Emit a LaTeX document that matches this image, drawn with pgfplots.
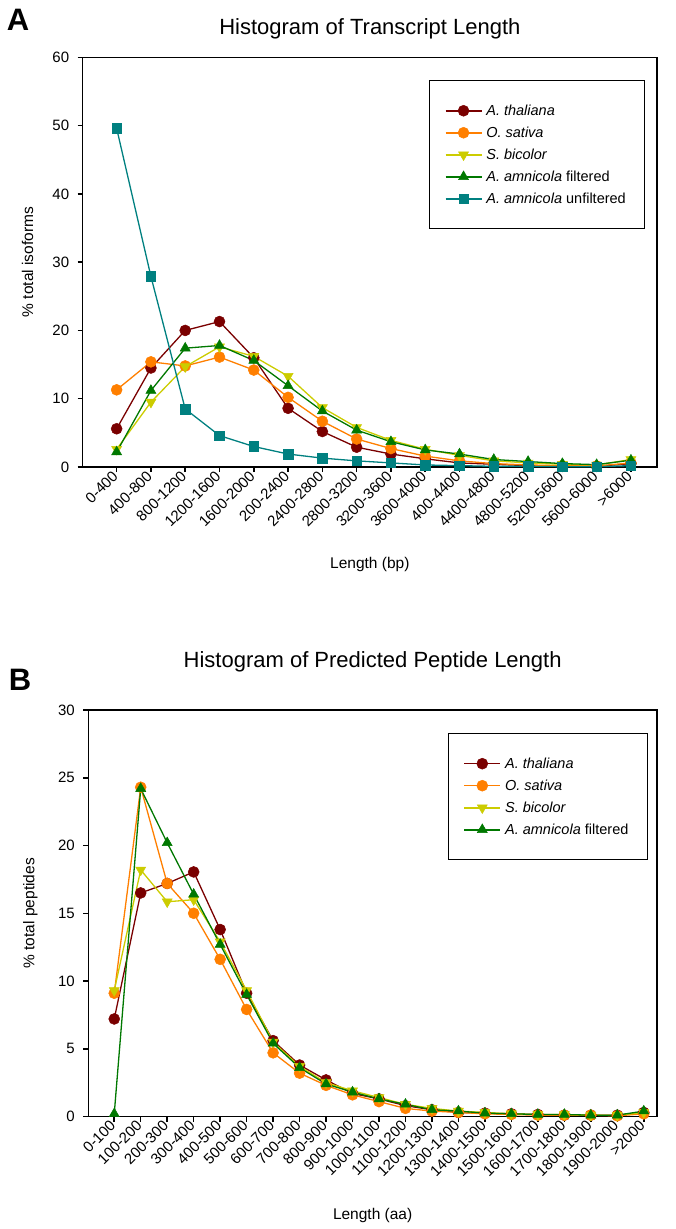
\documentclass[border=0pt]{standalone}
\usepackage{pgfplots}
\usepackage{pgfplotstable}
\usepackage{fontspec}
\setmainfont{Liberation Sans}
\pgfplotsset{compat=1.18}

\definecolor{cthal}{HTML}{7A0000}
\definecolor{csat}{HTML}{FF7F00}
\definecolor{cbic}{HTML}{CCCC00}
\definecolor{cfil}{HTML}{007800}
\definecolor{cunf}{HTML}{008080}

\pgfplotstableread{
x thal sat bic fil unf
0 5.6 11.3 2.6 2.2 49.6
1 14.5 15.4 9.5 11.2 27.9
2 20.0 14.8 14.7 17.4 8.5
3 21.3 16.1 17.6 17.8 4.6
4 16.0 14.2 16.2 15.6 3.0
5 8.6 10.2 13.3 11.9 1.9
6 5.2 6.7 8.7 8.2 1.3
7 2.9 4.1 5.8 5.4 0.9
8 1.9 2.7 3.9 3.7 0.6
9 1.2 1.6 2.6 2.5 0.3
10 0.6 0.9 1.7 1.9 0.2
11 0.4 0.5 0.9 1.1 0.1
12 0.2 0.3 0.6 0.8 0.1
13 0.1 0.2 0.4 0.5 0.05
14 0.1 0.15 0.3 0.35 0.05
15 0.5 0.6 1.1 1.0 0.2
}\transcript

\pgfplotstableread{
x thal sat bic fil
0 7.2 9.1 9.3 0.2
1 16.5 24.3 18.2 24.2
2 17.2 17.2 15.85 20.2
3 18.05 15.0 16.0 16.4
4 13.8 11.6 12.9 12.7
5 9.1 7.9 9.3 9.0
6 5.6 4.7 5.5 5.4
7 3.8 3.2 3.7 3.6
8 2.7 2.3 2.5 2.4
9 1.7 1.6 1.9 1.8
10 1.3 1.1 1.4 1.3
11 0.8 0.6 0.9 0.9
12 0.5 0.4 0.6 0.5
13 0.3 0.3 0.4 0.4
14 0.25 0.2 0.3 0.25
15 0.2 0.15 0.2 0.2
16 0.15 0.1 0.15 0.15
17 0.1 0.1 0.15 0.15
18 0.1 0.1 0.1 0.1
19 0.1 0.05 0.1 0.1
20 0.3 0.2 0.3 0.4
}\peptide

\pgfplotsset{
  mystyle/.style={
    scale only axis,
    axis line style={line width=1.5pt},
    tick style={line width=1.5pt, black},
    major tick length=5pt,
    tick align=outside,
    tick pos=left,
    /pgf/number format/assume math mode=true,
    ticklabel style={font=\fontsize{15}{17}\selectfont},
    yticklabel style={xshift=-5pt},
    xticklabel style={rotate=45, anchor=east, inner sep=2pt},
    label style={font=\fontsize{15.5}{18}\selectfont},
    title style={font=\fontsize{22}{25}\selectfont},
    legend cell align=left,
    legend image code/.code={\draw[line width=1.6pt, mark repeat=2,mark phase=2] plot coordinates {(0pt,0pt) (18pt,0pt) (36pt,0pt)};},
    every axis plot/.append style={line width=1.3pt},
  },
  mylegend/.style={draw=black, line width=1pt,
    font=\fontsize{14.5}{17}\selectfont, inner xsep=15pt, inner ysep=22pt, row sep=6pt,
    nodes={inner xsep=4pt}},
  pthal/.style={color=cthal, mark=*, mark size=5.5pt, mark options={solid, fill=cthal, draw=cthal, line width=0.5pt}},
  psat/.style={color=csat, mark=*, mark size=5.5pt, mark options={solid, fill=csat, draw=csat, line width=0.5pt}},
  pbic/.style={color=cbic, mark=triangle*, mark size=5.8pt, mark options={solid, rotate=180, fill=cbic, draw=cbic, line width=0.5pt}},
  pfil/.style={color=cfil, mark=triangle*, mark size=5.8pt, mark options={solid, fill=cfil, draw=cfil, line width=0.5pt}},
  punf/.style={color=cunf, mark=square*, mark size=4.8pt, mark options={solid, fill=cunf, draw=cunf, line width=0.5pt}},
}

\begin{document}
\begin{tikzpicture}
\path[use as bounding box] (0pt,0pt) rectangle (675pt,-1229pt);

\node[font=\fontsize{31}{31}\selectfont\bfseries] at (18pt,-20pt) {A};
\node[font=\fontsize{31}{31}\selectfont\bfseries] at (20pt,-680pt) {B};

\begin{axis}[
  mystyle,
  at={(82.7pt,-467pt)}, anchor=south west,
  width=574.3pt, height=409.7pt,
  xmin=-0.99, xmax=15.76,
  ymin=0, ymax=60,
  ytick={0,10,...,60},
  xtick={0,...,15},
  xticklabels={0-400,400-800,800-1200,1200-1600,1600-2000,200-2400,2400-2800,2800-3200,3200-3600,3600-4000,400-4400,4400-4800,4800-5200,5200-5600,5600-6000,>6000},
  title={Histogram of Transcript Length},
  title style={at={(axis description cs:0.5,1.055)}, anchor=center},
  xlabel={Length (bp)},
  xlabel style={at={(axis description cs:0.5,-0.239)}, anchor=center},
  ylabel={\% total isoforms},
  ylabel style={at={(axis description cs:-0.0958,0.5)}, anchor=center, rotate=0},
  legend style={mylegend, at={(0.9796,0.944)}, anchor=north east},
]
\addplot[pthal] table[x=x,y=thal] {\transcript};
\addplot[psat] table[x=x,y=sat] {\transcript};
\addplot[pbic] table[x=x,y=bic] {\transcript};
\addplot[pfil] table[x=x,y=fil] {\transcript};
\addplot[punf] table[x=x,y=unf] {\transcript};
\legend{\textit{A. thaliana},\textit{O. sativa},\textit{S. bicolor},\textit{A. amnicola} filtered,\textit{A. amnicola} unfiltered}
\end{axis}

\begin{axis}[
  mystyle,
  at={(88.3pt,-1116.5pt)}, anchor=south west,
  width=568.7pt, height=406.5pt,
  xmin=-0.98, xmax=20.5,
  ymin=0, ymax=30,
  ytick={0,5,...,30},
  xtick={0,...,20},
  xticklabels={0-100,100-200,200-300,300-400,400-500,500-600,600-700,700-800,800-900,900-1000,1000-1100,1100-1200,1200-1300,1300-1400,1400-1500,1500-1600,1600-1700,1700-1800,1800-1900,1900-2000,>2000},
  title={Histogram of Predicted Peptide Length},
  title style={at={(axis description cs:0.5,1.103)}, anchor=center},
  xlabel={Length (aa)},
  xlabel style={at={(axis description cs:0.5,-0.2435)}, anchor=center},
  ylabel={\% total peptides},
  ylabel style={at={(axis description cs:-0.102,0.5)}, anchor=center, rotate=0},
  legend style={mylegend, at={(0.984,0.943)}, anchor=north east},
]
\addplot[pthal] table[x=x,y=thal] {\peptide};
\addplot[psat] table[x=x,y=sat] {\peptide};
\addplot[pbic] table[x=x,y=bic] {\peptide};
\addplot[pfil] table[x=x,y=fil] {\peptide};
\legend{\textit{A. thaliana},\textit{O. sativa},\textit{S. bicolor},\textit{A. amnicola} filtered}
\end{axis}
\end{tikzpicture}
\end{document}
